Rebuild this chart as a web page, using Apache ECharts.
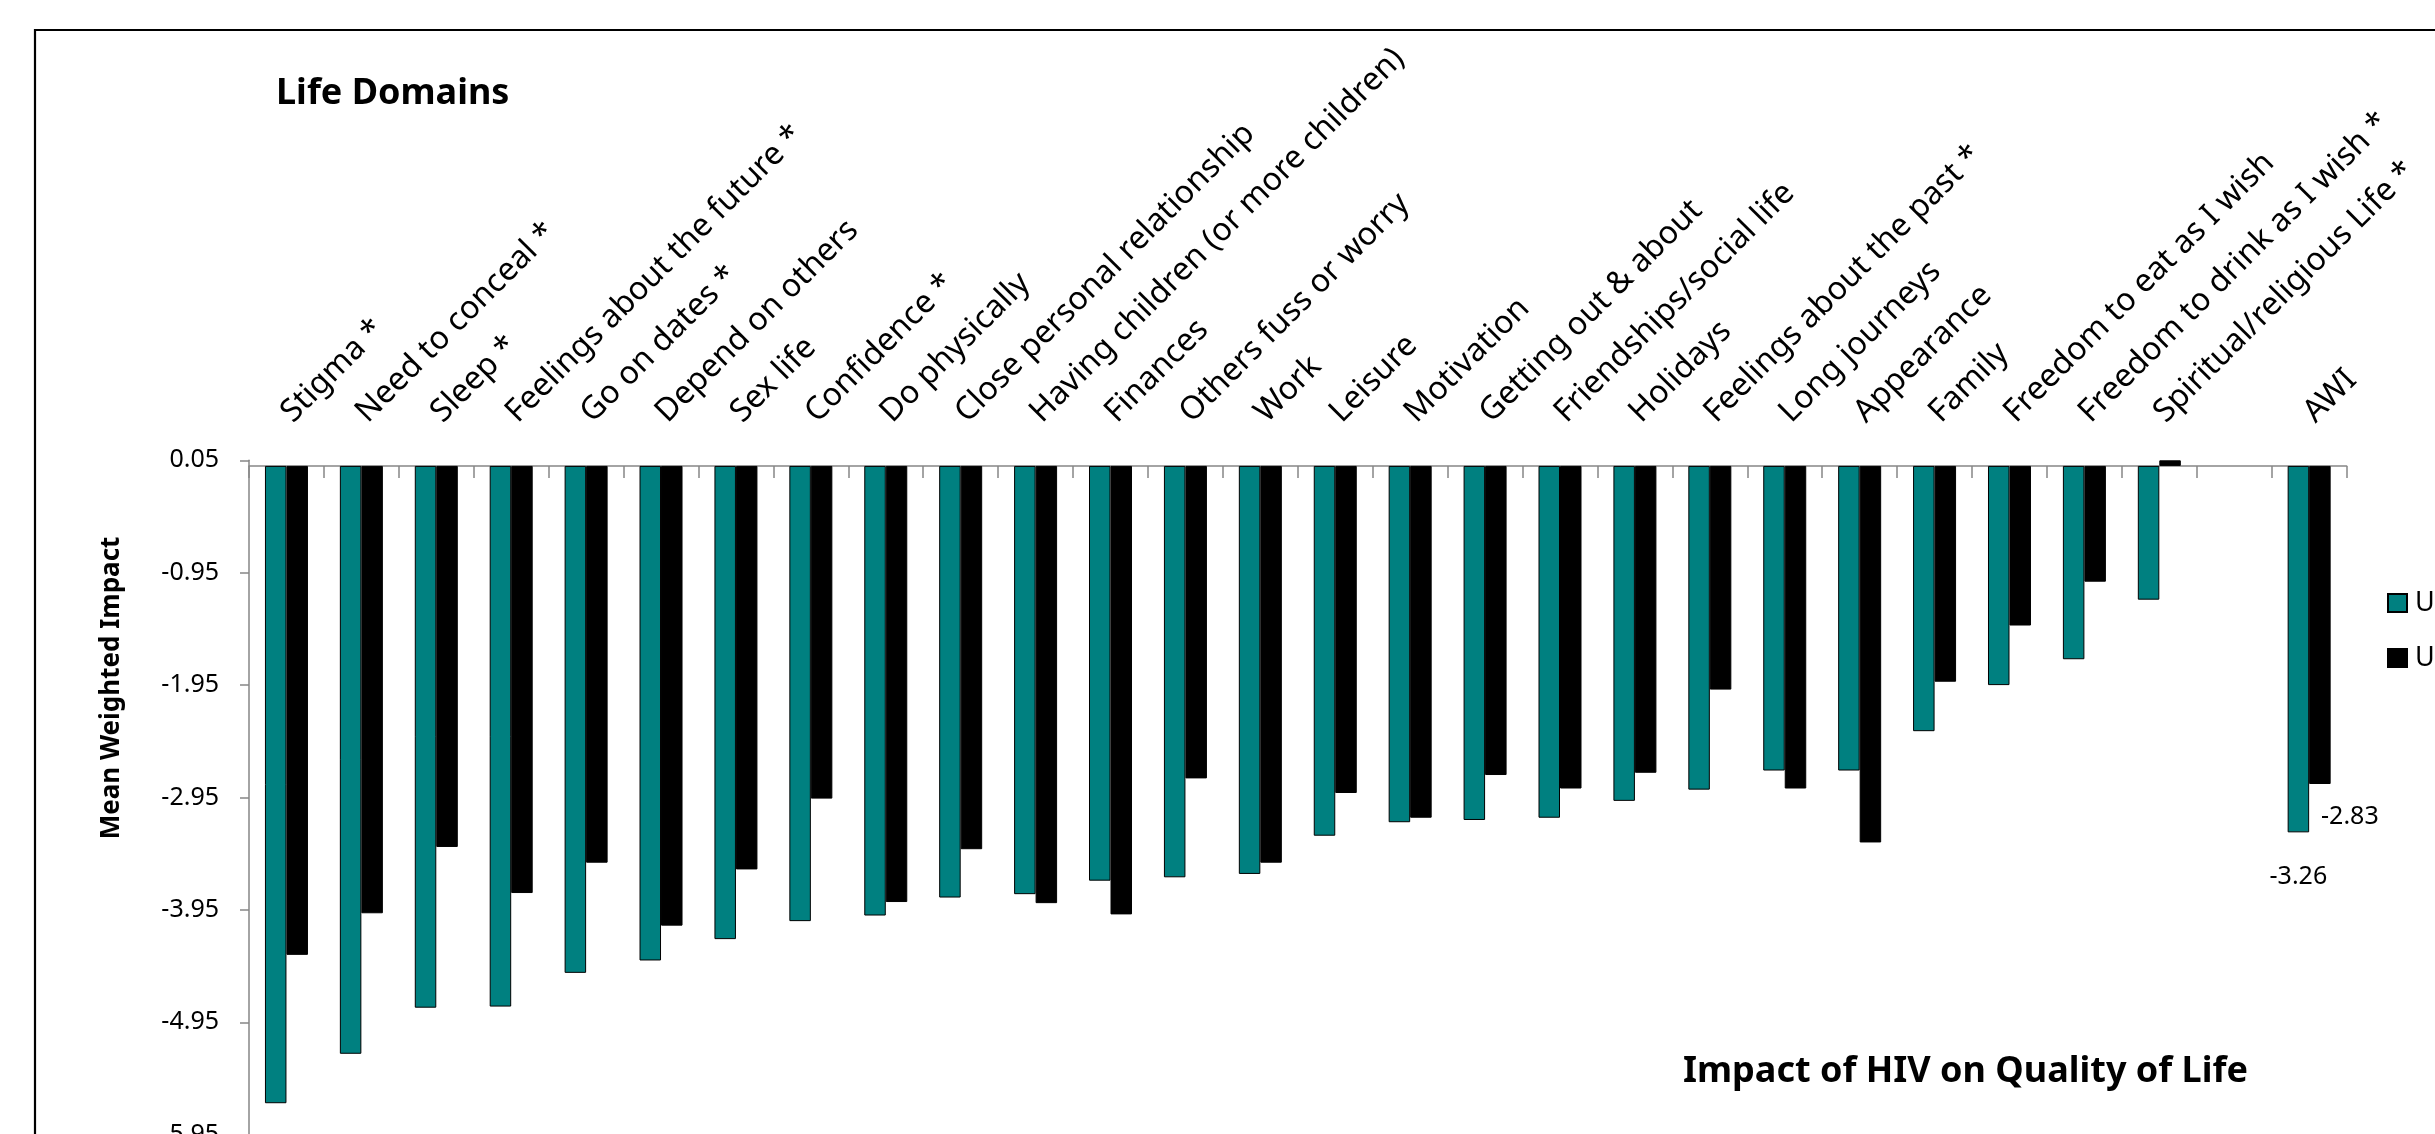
<!DOCTYPE html>
<html>
<head>
<meta charset="utf-8">
<script src="https://cdn.jsdelivr.net/npm/echarts@6/dist/echarts.min.js"></script>
<style>
html,body{margin:0;padding:0;background:#fff;overflow:hidden}
#chart{width:2435px;height:1134px}
</style>
</head>
<body>
<div id="chart"></div>
<script>
// ---- data ----
const categories = [
  'Stigma *', 'Need to conceal *', 'Sleep *', 'Feelings about the future *',
  'Go on dates *', 'Depend on others', 'Sex life', 'Confidence *', 'Do physically',
  'Close personal relationship', 'Having children (or more children)', 'Finances',
  'Others fuss or worry', 'Work', 'Leisure', 'Motivation', 'Getting out & about',
  'Friendships/social life', 'Holidays', 'Feelings about the past *', 'Long journeys',
  'Appearance', 'Family', 'Freedom to eat as I wish', 'Freedom to drink as I wish *',
  'Spiritual/religious Life *', '', 'AWI'
];
const seriesNames = ['UK', 'USA'];
const tealValues = [
  -5.67, -5.23, -4.82, -4.81, -4.51, -4.40, -4.21, -4.05, -4.00, -3.84, -3.81, -3.69,
  -3.66, -3.63, -3.29, -3.17, -3.15, -3.13, -2.98, -2.88, -2.71, -2.71, -2.36, -1.95,
  -1.72, -1.19, null, -3.26
];
const blackValues = [
  -4.35, -3.98, -3.39, -3.80, -3.53, -4.09, -3.59, -2.96, -3.88, -3.41, -3.89, -3.99,
  -2.78, -3.53, -2.91, -3.13, -2.75, -2.87, -2.73, -1.99, -2.87, -3.35, -1.92, -1.42,
  -1.03, 0.05, null, -2.83
];
const yTickLabels = ['0.05', '-0.95', '-1.95', '-2.95', '-3.95', '-4.95', '-5.95'];
const labelledCategory = 'AWI';

// ---- chart ----
const chart = echarts.init(document.getElementById('chart'), null, {renderer: 'canvas'});
const FONT = 'Noto Sans';
const AXIS_GRAY = '#868686';

function withLabel(values, labelOpt) {
  return values.map((v, i) => categories[i] === labelledCategory
    ? {value: v, label: Object.assign({show: true}, labelOpt)}
    : v);
}

const option = {
  backgroundColor: '#ffffff',
  animation: false,
  grid: {left: 249, top: 460.3, width: 2097.6, height: 674.4, containLabel: false, outerBoundsMode: 'none'},
  legend: {
    orient: 'vertical', left: 2387, top: 589.5, padding: 0,
    itemWidth: 19, itemHeight: 18, itemGap: 28, icon: 'rect',
    textStyle: {fontFamily: FONT, fontSize: 27, color: '#000', padding: [0, 0, 0, 3]},
    data: seriesNames
  },
  xAxis: {
    type: 'category', position: 'top', data: categories,
    axisLine: {show: true, onZero: true, onZeroAxisIndex: 1, lineStyle: {color: AXIS_GRAY, width: 1.5}},
    axisTick: {show: true, inside: true, length: 12, interval: 0, lineStyle: {color: AXIS_GRAY, width: 1.5}},
    axisLabel: {interval: 0, rotate: 45, margin: 43, fontFamily: FONT, fontSize: 32, color: '#000', hideOverlap: false},
    splitLine: {show: false}
  },
  yAxis: [
    {
      type: 'value', position: 'left', min: -6, max: 0, interval: 1,
      axisLine: {show: true, lineStyle: {color: AXIS_GRAY, width: 1.5}},
      axisTick: {show: true, length: 9, lineStyle: {color: AXIS_GRAY, width: 1.5}},
      axisLabel: {margin: 30, fontFamily: FONT, fontSize: 25, color: '#000',
        formatter: v => yTickLabels[Math.round(-v)]},
      splitLine: {show: false}
    },
    {type: 'value', min: -5.95, max: 0.05, show: false, splitLine: {show: false}}
  ],
  series: [
    {
      name: seriesNames[0], type: 'bar', yAxisIndex: 1, barWidth: 21.5, barGap: '0%',
      itemStyle: {color: '#008080', borderColor: '#000', borderWidth: 1},
      label: {show: false, fontFamily: FONT, fontSize: 25, color: '#000'},
      data: withLabel(tealValues, {position: 'bottom', distance: 32, formatter: p => p.value.toFixed(2)})
    },
    {
      name: seriesNames[1], type: 'bar', yAxisIndex: 1, barWidth: 21.5, barGap: '0%',
      itemStyle: {color: '#000000', borderColor: '#000', borderWidth: 1},
      label: {show: false, fontFamily: FONT, fontSize: 25, color: '#000'},
      data: withLabel(blackValues, {position: 'bottom', distance: 20, offset: [30, 0], formatter: p => p.value.toFixed(2)})
    }
  ],
  graphic: [
    {type: 'rect', silent: true, z: -10, shape: {x: 35, y: 30, width: 3000, height: 3000},
      style: {fill: 'none', stroke: '#000', lineWidth: 2.2}},
    {type: 'text', x: 276, y: 94, silent: true,
      style: {text: 'Life Domains', fontFamily: FONT, fontWeight: 'bold', fontSize: 36, fill: '#000',
        textAlign: 'left', textVerticalAlign: 'middle'}},
    {type: 'text', x: 1683, y: 1072, silent: true,
      style: {text: 'Impact of HIV on Quality of Life', fontFamily: FONT, fontWeight: 'bold', fontSize: 36, fill: '#000',
        textAlign: 'left', textVerticalAlign: 'middle'}},
    {type: 'text', x: 112, y: 688, rotation: Math.PI / 2, silent: true,
      style: {text: 'Mean Weighted Impact', fontFamily: FONT, fontWeight: 'bold', fontSize: 26, fill: '#000',
        textAlign: 'center', textVerticalAlign: 'middle'}}
  ]
};
chart.setOption(option);
</script>
</body>
</html>
